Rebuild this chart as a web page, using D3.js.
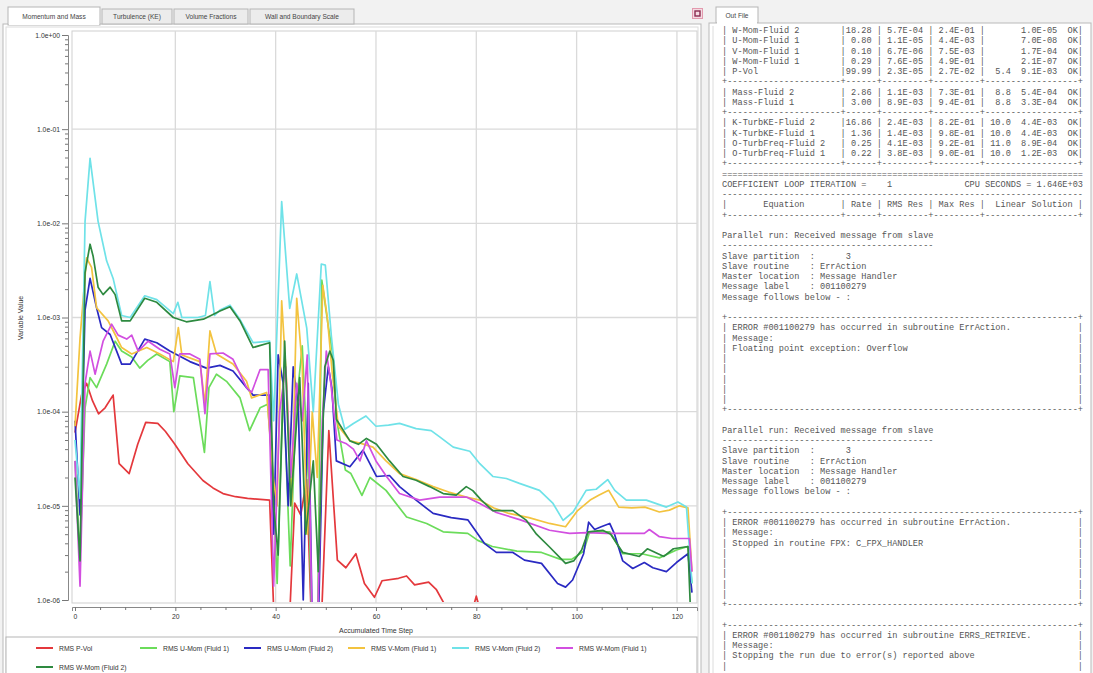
<!DOCTYPE html>
<html><head><meta charset="utf-8">
<script src="https://cdn.jsdelivr.net/npm/d3@7"></script>
<style>
html,body{margin:0;padding:0;background:#f2f2f2;}
svg{display:block;}
.mono{font-family:"Liberation Mono","DejaVu Sans Mono",monospace;white-space:pre;}
.ui{font-family:"Liberation Sans","DejaVu Sans",sans-serif;}
</style></head><body>
<svg id="c" width="1093" height="673"></svg>
<script>
// ---------- chart data ----------
const tabLabels = ["Momentum and Mass","Turbulence (KE)","Volume Fractions","Wall and Boundary Scale"];
const seriesNames = ["RMS P-Vol","RMS U-Mom (Fluid 1)","RMS U-Mom (Fluid 2)","RMS V-Mom (Fluid 1)","RMS V-Mom (Fluid 2)","RMS W-Mom (Fluid 1)","RMS W-Mom (Fluid 2)"];
const seriesColors = ["#e4383c","#6bdc5a","#2a2ac2","#f3c33f","#6fe2e8","#d24fe0","#2e8a40"];
const xTickValues = [0,20,40,60,80,100,120];
const yTickExponents = [0,-1,-2,-3,-4,-5,-6];
const xAxisTitle = "Accumulated Time Step";
const yAxisTitle = "Variable Value";

const stepsPVol = [0,1.3,2.3,3.5,4.7,6,7.6,8.8,10.8,12.5,14.1,16.5,18,19.8,22.5,25.5,27.5,29.5,32,34.4,38.8,39.9,42.5,43.8,45,46.2,47.3,48.9,50.6,52.3,54,56,57.7,59.7,61.2,64.5,66.1,67.7,70.5,72,74.2,77,79,80,81,84,123];
const valsPVol = [6e-5,1.5e-4,2e-4,1.3e-4,9.5e-5,1.1e-4,1.5e-4,2.8e-5,2.2e-5,4.5e-5,7.7e-5,7.5e-5,6.2e-5,4.6e-5,2.8e-5,1.86e-5,1.55e-5,1.35e-5,1.25e-5,1.2e-5,1.15e-5,3e-7,3e-7,1.07e-5,8e-6,1.9e-5,3e-7,3e-7,6.3e-5,2.65e-6,2.2e-6,3.1e-6,1.5e-6,1.07e-6,1.6e-6,1.7e-6,1.8e-6,1.45e-6,1.55e-6,1.3e-6,8e-7,6e-7,7e-7,1.1e-6,7e-7,5e-7,5e-7];

const stepsUMom1 = [0,1,2,3,4.3,6.3,8,9.3,11.3,12.9,14.5,16.3,18.9,19.7,20.9,23.6,25.8,26.7,28.2,30.2,32.9,34.8,36.9,38.4,39.3,40.3,41.5,42.9,44,45.3,46.5,47.3,48.3,49.2,50.5,51.4,52.2,53.9,55,57.2,58.8,62,66.1,70.1,73.4,78.3,80.3,83.2,88.1,93,96.8,99,101.4,102.6,106.6,109.2,113,116.5,119.9,122.2,123];
const valsUMom1 = [3e-5,3e-6,1.1e-4,2.3e-4,1.8e-4,3.2e-4,5.6e-4,4.4e-4,3.8e-4,2.9e-4,3.5e-4,4.1e-4,3.4e-4,1e-4,2.4e-4,2.3e-4,3.7e-5,1.8e-4,2.5e-4,2.1e-4,1.4e-4,6.3e-5,1.1e-4,1.2e-4,3e-5,1.5e-6,2e-4,2.3e-6,1e-4,5e-4,2e-5,3e-7,3e-7,2.5e-3,8e-4,4e-4,8e-5,2.4e-5,2.2e-5,1.29e-5,2e-5,1.46e-5,7.6e-6,6.5e-6,5.3e-6,5.1e-6,4.3e-6,3.7e-6,3.3e-6,3.2e-6,2.7e-6,2.7e-6,3.3e-6,5.3e-6,5.3e-6,3.1e-6,3.1e-6,2.8e-6,3.4e-6,3.7e-6,1.5e-6];

const stepsUMom2 = [0,1,2,3,4.3,5.3,7,8.3,9.3,11,13.9,16.3,18.9,22.9,26.2,28.9,31.5,34.2,35.5,38.8,39.6,40.5,41.5,42.5,43.5,44.5,45.5,46.5,47.3,48.5,49.5,50.5,51.2,52.1,54.8,57.4,58.5,60.1,62.7,64.7,68,71.4,75,78.3,81.6,84,87.3,89.6,93,96.2,97.8,99.2,101.4,102.4,103.6,104.9,106.6,107.5,109.2,111.2,113.5,115.2,117.9,119.9,122.2,123];
const valsUMom2 = [8e-5,8e-6,1.2e-3,2.6e-3,1.27e-3,7.8e-4,6.6e-4,4.4e-4,3.2e-4,3.2e-4,5.9e-4,5.4e-4,4.4e-4,3.4e-4,2.9e-4,3.1e-4,2.7e-4,1.8e-4,1.5e-4,1.5e-4,5e-6,4e-4,2e-4,1e-5,3e-4,1.2e-4,1e-6,2e-4,5e-7,5e-7,1e-4,3e-4,1.8e-4,3e-5,2.6e-5,3.9e-5,3e-5,2.05e-5,2.1e-5,1.6e-5,1.15e-5,8.3e-6,7.5e-6,7.1e-6,4e-6,3.2e-6,3.2e-6,2.65e-6,2.45e-6,1.5e-6,1.37e-6,1.63e-6,3.1e-6,6.7e-6,5.6e-6,6e-6,6.5e-6,5.1e-6,2.6e-6,2.16e-6,2.5e-6,2.2e-6,2e-6,2.5e-6,3.1e-6,1.2e-6];

const stepsVMom1 = [0,1,2.3,3.3,4.3,6.6,8,9.3,11.3,14.3,16.9,19.6,20.6,21.3,24.9,25.9,26.9,28.2,31.5,34.2,35.2,38.2,39.5,40.3,41.2,42.2,43.2,44.2,45.3,46.3,47.3,48.3,49.4,50.3,51.3,52.5,54.8,57,59.4,62,64.7,68,71.4,74.5,78,80.7,83.5,86.5,90.5,94.6,97.8,100.2,102.7,104.5,106.4,108.4,111,113.6,116.5,118.5,120.5,122.2,123];
const valsVMom1 = [7e-5,6e-4,4.3e-3,3.4e-3,1.27e-3,9.2e-4,6.6e-4,4.8e-4,4.1e-4,4.8e-4,4.1e-4,3.4e-4,7.8e-4,4e-4,3.4e-4,1.2e-4,7.2e-4,4.1e-4,3.2e-4,2.1e-4,1.4e-4,1.6e-4,2e-5,1e-5,1.5e-3,2e-4,1e-5,1.6e-3,3e-4,5e-6,1e-4,2e-5,2.2e-3,1e-3,2.5e-4,7e-5,4.9e-5,4.6e-5,4.2e-5,3e-5,2.2e-5,1.9e-5,1.6e-5,1.4e-5,1.24e-5,1.15e-5,9.5e-6,8.3e-6,7.5e-6,6.5e-6,6e-6,8.9e-6,1.15e-5,1.3e-5,1.46e-5,9.7e-6,9.5e-6,9.7e-6,8.6e-6,9e-6,1e-5,9.5e-6,2e-6];

const stepsVMom2 = [0,1,2,3,4.6,6.3,7.6,9.3,11,13.9,16.3,19.6,20.5,21.3,24.5,26,26.9,27.8,28.9,30.9,32.9,35.5,38.8,39.6,41.2,42.8,44.2,46.2,47.5,49.1,49.9,51.1,52.5,53.8,55.5,58,60,62.5,64.7,68,71,72.7,75.4,78.7,80.7,83.3,86,88.6,92.6,95.3,97.3,99.3,101.9,103.9,106.2,107.6,109.9,113.9,117.9,120.2,121.9,123];
const valsVMom2 = [5e-5,1.2e-5,1.05e-2,4.9e-2,1.05e-2,4e-3,2.6e-3,1.05e-3,1e-3,1.7e-3,1.55e-3,1.1e-3,1.45e-3,1e-3,1e-3,1.05e-3,2.4e-3,1.05e-3,1.2e-3,1.35e-3,9.5e-4,5.4e-4,5.6e-4,8e-5,1.7e-2,1.25e-3,2.9e-3,7.7e-4,1e-4,3.7e-3,3.6e-3,6.4e-4,1.2e-4,6.5e-5,7.5e-5,9e-5,7e-5,7.2e-5,7.5e-5,6.6e-5,6.3e-5,5.4e-5,4.2e-5,3.8e-5,2.8e-5,2.05e-5,1.95e-5,1.73e-5,1.46e-5,1.06e-5,7e-6,8.6e-6,1.46e-5,1.5e-5,1.9e-5,1.46e-5,1.15e-5,1.15e-5,9.7e-6,1.1e-5,9.7e-6,1.5e-6];

const stepsWMom1 = [0,1,2,3,4,5.6,7.3,8.6,10.3,11.3,12.6,14.6,16.9,18.9,19.9,20.9,22.9,24.9,25.9,26.9,29.5,31.5,34.2,35.2,36.9,38.5,39.6,40.8,42,43,44.2,45.3,46.3,47.3,48.3,49.3,50.1,51,52.2,54,55.5,56.8,58.1,60,62.1,64.7,68.7,72.7,78,80.7,84,88.8,94.6,98.6,102,106,110,113.5,114.5,116.5,119,122.5,123];
const valsWMom1 = [3e-5,1.4e-6,2e-4,4.4e-4,2.5e-4,5.6e-4,8.5e-4,6.5e-4,5.9e-4,6.5e-4,4.4e-4,5.6e-4,4.6e-4,4.1e-4,1.8e-4,4.1e-4,4.1e-4,3.6e-4,9.5e-5,4.1e-4,4.2e-4,3.6e-4,1.8e-4,1.6e-4,2.8e-4,2.8e-4,1.4e-6,1e-4,3e-4,2e-5,2e-4,8e-5,4e-4,4e-7,4e-7,8e-5,4.4e-4,2e-4,5e-5,4.6e-5,4e-5,3e-5,4.9e-5,3e-5,2.05e-5,1.35e-5,1.15e-5,1.24e-5,1.24e-5,1.06e-5,8.5e-6,7.1e-6,5.5e-6,5.1e-6,5.2e-6,5.1e-6,5.1e-6,5.1e-6,5.6e-6,4.7e-6,4.5e-6,4.5e-6,2e-6];

const stepsWMom2 = [0,1,2,3,3.6,4.6,5.6,7,8,9.3,11,13.9,16.3,19.6,22.2,25.6,28.9,30.9,32.9,35.5,38.8,39.6,40.5,41.8,43,44.8,46,47.5,48.5,49.8,50.8,51.5,52.1,54.8,56.5,58.1,60.1,62.7,65.4,68,70.7,73.4,76,78,79.3,81,83.3,87.3,90,92,94.5,97.8,99.4,101,102.3,105.2,106.8,109.2,112.5,114.1,117.4,119.3,122.2,123];
const valsWMom2 = [2e-5,2.6e-6,3e-3,6e-3,4.5e-3,2.1e-3,1.75e-3,2.1e-3,1.75e-3,9.2e-4,9.2e-4,1.6e-3,1.45e-3,1e-3,9e-4,9.6e-4,1.17e-3,1.3e-3,9.2e-4,4.8e-4,5.4e-4,1e-5,3e-6,5.6e-4,1e-5,2.3e-4,5e-6,3e-5,2e-6,3e-4,4.4e-4,3.5e-4,8.3e-5,4.9e-5,4.5e-5,5.2e-5,4.5e-5,3e-5,2.05e-5,1.87e-5,1.6e-5,1.35e-5,1.3e-5,1.6e-5,1.45e-5,1.15e-5,8.9e-6,8.9e-6,7e-6,5e-6,3.7e-6,2.45e-6,2.6e-6,3.4e-6,5.3e-6,5.5e-6,5e-6,3.2e-6,2.9e-6,3.5e-6,2.9e-6,3.5e-6,3.7e-6,3e-7];

// ---------- out file text ----------
const outTabLabel = "Out File";
const eqRows = [
  ["W-Mom-Fluid 2","18.28","5.7E-04","2.4E-01","",    "1.0E-05"],
  ["U-Mom-Fluid 1"," 0.80","1.1E-05","4.4E-03","",    "7.0E-08"],
  ["V-Mom-Fluid 1"," 0.10","6.7E-06","7.5E-03","",    "1.7E-04"],
  ["W-Mom-Fluid 1"," 0.29","7.6E-05","4.9E-01","",    "2.1E-07"],
  ["P-Vol",        "99.99","2.3E-05","2.7E-02"," 5.4","9.1E-03"],
  null,
  ["Mass-Fluid 2", " 2.86","1.1E-03","7.3E-01"," 8.8","5.4E-04"],
  ["Mass-Fluid 1", " 3.00","8.9E-03","9.4E-01"," 8.8","3.3E-04"],
  null,
  ["K-TurbKE-Fluid 2","16.86","2.4E-03","8.2E-01","10.0","4.4E-03"],
  ["K-TurbKE-Fluid 1"," 1.36","1.4E-03","9.8E-01","10.0","4.4E-03"],
  ["O-TurbFreq-Fluid 2"," 0.25","4.1E-03","9.2E-01","11.0","8.9E-04"],
  ["O-TurbFreq-Fluid 1"," 0.22","3.8E-03","9.0E-01","10.0","1.2E-03"],
  null
];
const coeffLine = "COEFFICIENT LOOP ITERATION =    1              CPU SECONDS = 1.646E+03";
const headerLine = "|       Equation       | Rate | RMS Res | Max Res |  Linear Solution |";
const slaveBlocks = [
  {partition:"3", msg:["ERROR #001100279 has occurred in subroutine ErrAction.","Message:","Floating point exception: Overflow"]},
  {partition:"3", msg:["ERROR #001100279 has occurred in subroutine ErrAction.","Message:","Stopped in routine FPX: C_FPX_HANDLER"]}
];
const finalMsg = ["ERROR #001100279 has occurred in subroutine ERRS_RETRIEVE.","Message:","Stopping the run due to error(s) reported above"];

// ---------- build ----------
const svg = d3.select("#c");
const W = 1093, H = 673;

// Left panel
svg.append("rect").attr("x",3).attr("y",24).attr("width",698).attr("height",H-24+2)
  .attr("fill","#fff").attr("stroke","#b9b9b9");
svg.append("rect").attr("x",6).attr("y",27).attr("width",692).attr("height",H-27+2)
  .attr("fill","none").attr("stroke","#dcdcdc");

// tabs
const tabX = [8,102,174,250], tabW = [92,70,74,104];
tabLabels.forEach((t,i)=>{
  const active = i===0;
  svg.append("rect").attr("x",tabX[i]).attr("y",active?7:9).attr("width",tabW[i]).attr("height",active?18:15)
    .attr("fill",active?"#fff":"#ececec").attr("stroke","#b5b5b5");
  svg.append("text").attr("class","ui").attr("x",tabX[i]+tabW[i]/2).attr("y",19)
    .attr("text-anchor","middle").attr("font-size",6.6).attr("fill","#444").text(t);
});
svg.append("line").attr("x1",tabX[0]+1).attr("x2",tabX[0]+tabW[0]-1).attr("y1",24).attr("y2",24).attr("stroke","#fff").attr("stroke-width",2);
// close icon
svg.append("rect").attr("x",692.5).attr("y",8.5).attr("width",10).attr("height",10).attr("fill","#f4dbe2").attr("stroke","#e39aae");
svg.append("rect").attr("x",695).attr("y",11).attr("width",5).attr("height",5).attr("fill","none").attr("stroke","#8a2b50").attr("stroke-width",1.4);

// Plot frame
const PL = 72, PR = 697, PT = 31, PB = 603;
const x = d3.scaleLinear().domain([-0.6,124.0]).range([PL,PR]);
const y = d3.scaleLog().domain([1e-6,1]).range([600,35]);

svg.append("rect").attr("x",PL).attr("y",PT).attr("width",PR-PL).attr("height",PB-PT)
  .attr("fill","#fff").attr("stroke","#cfcfcf");

// grid
const gridG = svg.append("g");
yTickExponents.forEach(e=>{
  const v = Math.pow(10,e);
  if (e===0 || e===-6) return;
  gridG.append("line").attr("x1",PL).attr("x2",PR).attr("y1",y(v)).attr("y2",y(v)).attr("stroke","#dadada").attr("stroke-width",1.3);
});
xTickValues.forEach(v=>{
  if (v===0) return;
  gridG.append("line").attr("x1",x(v)).attr("x2",x(v)).attr("y1",PT).attr("y2",PB).attr("stroke","#dadada").attr("stroke-width",1.3);
});

// y axis
const yMajor = yTickExponents.map(e=>Math.pow(10,e));
const yMinor = [];
for (let e=-6;e<0;e++) for (let m=2;m<=9;m++) yMinor.push(m*Math.pow(10,e));
const fmtY = v => { const e = Math.round(Math.log10(v)); return "1.0e" + (e<0?"-":"+") + String(Math.abs(e)).padStart(2,"0"); };
svg.append("g").attr("transform","translate(68,0)")
  .call(d3.axisLeft(y).tickValues(yMajor).tickFormat(fmtY).tickSize(6).tickPadding(2));
svg.append("g").attr("transform","translate(68,0)")
  .call(d3.axisLeft(y).tickValues(yMinor).tickFormat("").tickSize(3))
  .select(".domain").remove();
// x axis
const xMinor = d3.range(0,125,5).filter(v=>v%20!==0);
svg.append("g").attr("transform","translate(0,607)")
  .call(d3.axisBottom(x).tickValues(xTickValues).tickSize(4).tickPadding(3));
svg.append("g").attr("transform","translate(0,607)")
  .call(d3.axisBottom(x).tickValues(xMinor).tickFormat("").tickSize(3))
  .select(".domain").remove();
svg.selectAll(".tick text").attr("font-family","Liberation Sans, DejaVu Sans, sans-serif").attr("font-size",6.8).attr("fill","#333");
svg.selectAll(".tick line").attr("stroke","#777");
svg.selectAll(".domain").attr("stroke","#888");

svg.append("text").attr("class","ui").attr("x",376).attr("y",633).attr("text-anchor","middle")
  .attr("font-size",7).attr("fill","#333").text(xAxisTitle);
svg.append("text").attr("class","ui").attr("transform","translate(23,318) rotate(-90)").attr("text-anchor","middle")
  .attr("font-size",7).attr("fill","#333").text(yAxisTitle);

// series
const allSteps = [stepsPVol,stepsUMom1,stepsUMom2,stepsVMom1,stepsVMom2,stepsWMom1,stepsWMom2];
const allVals  = [valsPVol,valsUMom1,valsUMom2,valsVMom1,valsVMom2,valsWMom1,valsWMom2];
const series = seriesNames.map((n,i)=>({name:n,color:seriesColors[i],pts:allSteps[i].map((s,k)=>[s,allVals[i][k]])}));

svg.append("clipPath").attr("id","pclip").append("rect").attr("x",PL+1).attr("y",PT+1).attr("width",PR-PL-2).attr("height",PB-PT-2);
const line = d3.line().x(d=>x(d[0])).y(d=>y(d[1]));
const linesG = svg.append("g").attr("clip-path","url(#pclip)");
series.forEach(s=>{
  linesG.append("path").datum(s.pts).attr("d",line).attr("fill","none")
    .attr("stroke",s.color).attr("stroke-width",1.7).attr("stroke-linejoin","round");
});

// legend
svg.append("rect").attr("x",6).attr("y",637).attr("width",691).attr("height",45).attr("fill","#fff").attr("stroke","#b5b5b5");
series.forEach((s,i)=>{
  const col = i%6, row = Math.floor(i/6);
  const lx = 36 + col*104, ly = 648 + row*19;
  svg.append("line").attr("x1",lx).attr("x2",lx+17).attr("y1",ly).attr("y2",ly).attr("stroke",s.color).attr("stroke-width",2);
  svg.append("text").attr("class","ui").attr("x",lx+23).attr("y",ly+2.5).attr("font-size",6.8).attr("fill","#333").text(s.name);
});

// Right panel
svg.append("rect").attr("x",716).attr("y",7).attr("width",42).attr("height",16).attr("fill","#fff").attr("stroke","#b5b5b5");
svg.append("text").attr("class","ui").attr("x",737).attr("y",18).attr("text-anchor","middle").attr("font-size",6.6).attr("fill","#444").text(outTabLabel);
svg.append("rect").attr("x",709).attr("y",23).attr("width",382).attr("height",H-23+2).attr("fill","#fff").attr("stroke","#b9b9b9");
svg.append("line").attr("x1",713).attr("x2",713).attr("y1",26).attr("y2",H).attr("stroke","#dcdcdc");
svg.append("line").attr("x1",717).attr("x2",757).attr("y1",23).attr("y2",23).attr("stroke","#fff").attr("stroke-width",2);

const sepLine = "+----------------------+------+---------+---------+------------------+";
const boxLine = "+" + "-".repeat(68) + "+";
const outLines = [];
eqRows.forEach(r=>{
  if (!r) { outLines.push(sepLine); return; }
  const lin = (r[4] ? r[4].padStart(4," ") : "    ").padStart(5," ");
  outLines.push("| " + r[0].padEnd(21) + "|" + r[1].padStart(5) + " | " + r[2] + " | " + r[3] + " |" + lin + "  " + r[5] + "  OK|");
});
outLines.push("=".repeat(70));
outLines.push(coeffLine);
outLines.push("-".repeat(70));
outLines.push(headerLine);
outLines.push(sepLine);
slaveBlocks.forEach(b=>{
  outLines.push("");
  outLines.push("Parallel run: Received message from slave");
  outLines.push("-".repeat(41));
  outLines.push("Slave partition  :      " + b.partition);
  outLines.push("Slave routine    : ErrAction");
  outLines.push("Master location  : Message Handler");
  outLines.push("Message label    : 001100279");
  outLines.push("Message follows below - :");
  outLines.push("");
  outLines.push(boxLine);
  b.msg.forEach(m=>outLines.push("| " + m.padEnd(67) + "|"));
  for (let k=0;k<5;k++) outLines.push("| " + "".padEnd(67) + "|");
  outLines.push(boxLine);
});
outLines.push("");
outLines.push(boxLine);
finalMsg.forEach(m=>outLines.push("| " + m.padEnd(67) + "|"));
outLines.push("| " + "".padEnd(67) + "|");

const tg = svg.append("g");
outLines.forEach((l,i)=>{
  tg.append("text").attr("class","mono").attr("x",722).attr("y",33 + i*10.25)
    .attr("font-size",8.6).attr("fill","#555").text(l);
});
</script>
</body></html>
